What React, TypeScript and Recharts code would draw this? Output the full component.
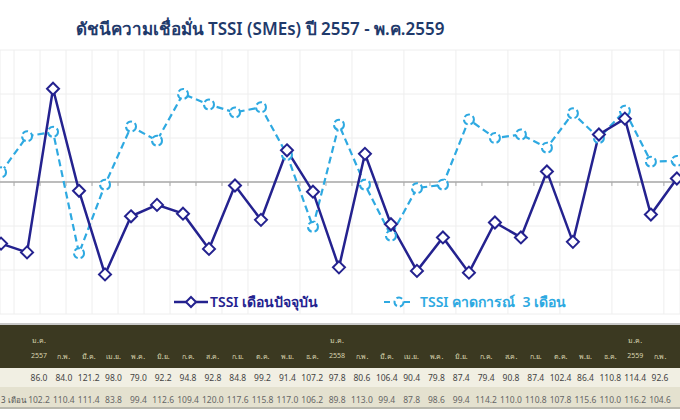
import React from 'react';
import { ComposedChart, Line, XAxis, YAxis, CartesianGrid, ReferenceLine } from 'recharts';

// เดือน ม.ค. 2557 - มี.ค. 2559 (last one is cut off in the source picture)
const months = [
    'ม.ค.', 'ก.พ.', 'มี.ค.', 'เม.ย.', 'พ.ค.', 'มิ.ย.', 'ก.ค.', 'ส.ค.', 'ก.ย.', 'ต.ค.', 'พ.ย.', 'ธ.ค.',
    'ม.ค.', 'ก.พ.', 'มี.ค.', 'เม.ย.', 'พ.ค.', 'มิ.ย.', 'ก.ค.', 'ส.ค.', 'ก.ย.', 'ต.ค.', 'พ.ย.', 'ธ.ค.',
    'ม.ค.', 'ก.พ.', 'มี.ค.',
];
const years = [
    '2557', '2557', '2557', '2557', '2557', '2557', '2557', '2557', '2557', '2557', '2557', '2557',
    '2558', '2558', '2558', '2558', '2558', '2558', '2558', '2558', '2558', '2558', '2558', '2558',
    '2559', '2559', '2559',
];
const tssiCurrent = [
    86.0, 84.0, 121.2, 98.0, 79.0, 92.2, 94.8, 92.8, 84.8, 99.2, 91.4, 107.2,
    97.8, 80.6, 106.4, 90.4, 79.8, 87.4, 79.4, 90.8, 87.4, 102.4, 86.4, 110.8,
    114.4, 92.6, 100.8,
];
const tssiForecast = [
    102.2, 110.4, 111.4, 83.8, 99.4, 112.6, 109.4, 120.0, 117.6, 115.8, 117.0, 106.2,
    89.8, 113.0, 99.4, 87.8, 98.6, 99.4, 114.2, 110.0, 110.8, 107.8, 115.6, 110.0,
    116.2, 104.6, 104.8,
];
const yTicks = [70, 80, 90, 100, 110, 120, 130];

const NAVY = '#24228f';
const SKY = '#2ea9e1';
const FONT = '"Noto Sans", "Liberation Sans", "DejaVu Sans", sans-serif';

const data = tssiCurrent.map((v, i) => ({ idx: i, current: v, forecast: tssiForecast[i] }));
// category boundaries: grid lines and axis tick marks sit between the months
const boundaries = data.slice(0, -1).map((d) => d.idx + 0.5);

const Diamond = (props: any) => {
    const { cx, cy } = props;
    if (cx == null || cy == null) return null;
    const s = 6;
    return (
        <path
            d={`M${cx},${cy - s}L${cx + s},${cy}L${cx},${cy + s}L${cx - s},${cy}Z`}
            fill="#fff"
            stroke={NAVY}
            strokeWidth={2}
        />
    );
};

const ChartLegend = () => (
    <div style={{ position: 'absolute', left: 0, top: 291, width: 680, height: 16, fontFamily: FONT, fontSize: 14, fontWeight: 600 }}>
        <div style={{ position: 'absolute', left: 174, display: 'flex', alignItems: 'center', color: NAVY }}>
            <svg width={34} height={14}>
                <line x1={0} y1={7} x2={34} y2={7} stroke={NAVY} strokeWidth={2.5} />
                <path d="M17,2L22,7L17,12L12,7Z" fill="#fff" stroke={NAVY} strokeWidth={2} />
            </svg>
            <span style={{ marginLeft: 2 }}>TSSI เดือนปัจจุบัน</span>
        </div>
        <div style={{ position: 'absolute', left: 384, display: 'flex', alignItems: 'center', color: SKY }}>
            <svg width={30} height={14}>
                <line x1={0} y1={7} x2={30} y2={7} stroke={SKY} strokeWidth={2} strokeDasharray="6 4" />
                <circle cx={15} cy={7} r={4.5} fill="#fff" stroke={SKY} strokeWidth={2} strokeDasharray="6 3" />
            </svg>
            <span style={{ marginLeft: 6 }}>TSSI คาดการณ์&nbsp;&nbsp;3 เดือน</span>
        </div>
    </div>
);

const COL0 = 39;
const COLW = 24.84;
// only the columns that fit in the 680px frame
const tableCols = months.map((_, i) => i).filter((i) => COL0 + COLW * i + 14 < 680);

const DataTable = () => {
    const cell = (i: number, top: number, text: string, style: React.CSSProperties) => (
        <div
            key={`${top}-${i}`}
            style={{
                position: 'absolute', left: COL0 + COLW * i - 20, width: 40, top,
                textAlign: 'center', whiteSpace: 'nowrap', ...style,
            }}
        >
            {text}
        </div>
    );
    const head = { fontSize: 7, color: '#d9d4ae' };
    const val = { fontSize: 8.5, color: '#444' };
    return (
        <div style={{ position: 'absolute', left: 0, top: 323, width: 680, height: 97, fontFamily: FONT }}>
            <div style={{ position: 'absolute', left: 0, top: 0, width: 680, height: 2, background: '#c9c9c9' }} />
            <div style={{ position: 'absolute', left: 0, top: 2, width: 680, height: 43, background: '#3b3921' }} />
            <div style={{ position: 'absolute', left: 0, top: 45, width: 680, height: 19, background: '#f1efe3' }} />
            <div style={{ position: 'absolute', left: 0, top: 64, width: 680, height: 20, background: '#e4e1cf' }} />
            <div style={{ position: 'absolute', left: 0, top: 84, width: 680, height: 2, background: '#b9b8ad' }} />
            <div
                style={{
                    position: 'absolute', left: 1, top: 71, fontSize: 8, color: '#555',
                    whiteSpace: 'nowrap',
                }}
            >
                3 เดือน
            </div>
            {tableCols.map((i) => (months[i] === 'ม.ค.' ? cell(i, 12, months[i], head) : null))}
            {tableCols.map((i) => cell(i, 28, months[i] === 'ม.ค.' ? years[i] : months[i], head))}
            {tableCols.map((i) => cell(i, 49, tssiCurrent[i].toFixed(1), val))}
            {tableCols.map((i) => cell(i, 71, tssiForecast[i].toFixed(1), { ...val, color: '#666' }))}
        </div>
    );
};

export default function App() {
    return (
        <div
            style={{
                position: 'fixed', left: 0, top: 0, width: 680, height: 420,
                overflow: 'hidden', background: '#fff', fontFamily: FONT,
            }}
        >
            <div
                style={{
                    position: 'absolute', left: 0, width: 520, top: 15, textAlign: 'center',
                    fontSize: 17, fontWeight: 600, color: '#1f3a6b',
                }}
            >
                ดัชนีความเชื่อมั่น TSSI (SMEs) ปี 2557 - พ.ค.2559
            </div>
            <div style={{ position: 'absolute', left: 0, top: 0 }}>
                <ComposedChart
                    width={680}
                    height={320}
                    data={data}
                    margin={{ top: 50, right: 0, bottom: 6, left: 0 }}
                >
                    <CartesianGrid stroke="#eeeeee" strokeWidth={1} />
                    <XAxis
                        dataKey="idx"
                        type="number"
                        domain={[-0.04, 26.12]}
                        ticks={boundaries}
                        allowDataOverflow
                        hide
                    />
                    <YAxis type="number" domain={[70, 130]} ticks={yTicks} allowDataOverflow hide />
                    <ReferenceLine y={100} stroke="#a9a9a9" strokeWidth={1.5} />
                    {boundaries.map((b) => (
                        <ReferenceLine
                            key={b}
                            segment={[{ x: b, y: 100 }, { x: b, y: 99.1 }]}
                            stroke="#a9a9a9"
                            strokeWidth={1}
                        />
                    ))}
                    <Line
                        dataKey="forecast"
                        stroke={SKY}
                        strokeWidth={2.2}
                        strokeDasharray="7 4"
                        dot={{ r: 5, fill: '#fff', stroke: SKY, strokeWidth: 2, strokeDasharray: '6 3' }}
                        isAnimationActive={false}
                    />
                    <Line
                        dataKey="current"
                        stroke={NAVY}
                        strokeWidth={2.5}
                        dot={<Diamond />}
                        isAnimationActive={false}
                    />
                </ComposedChart>
            </div>
            <ChartLegend />
            <DataTable />
        </div>
    );
}
